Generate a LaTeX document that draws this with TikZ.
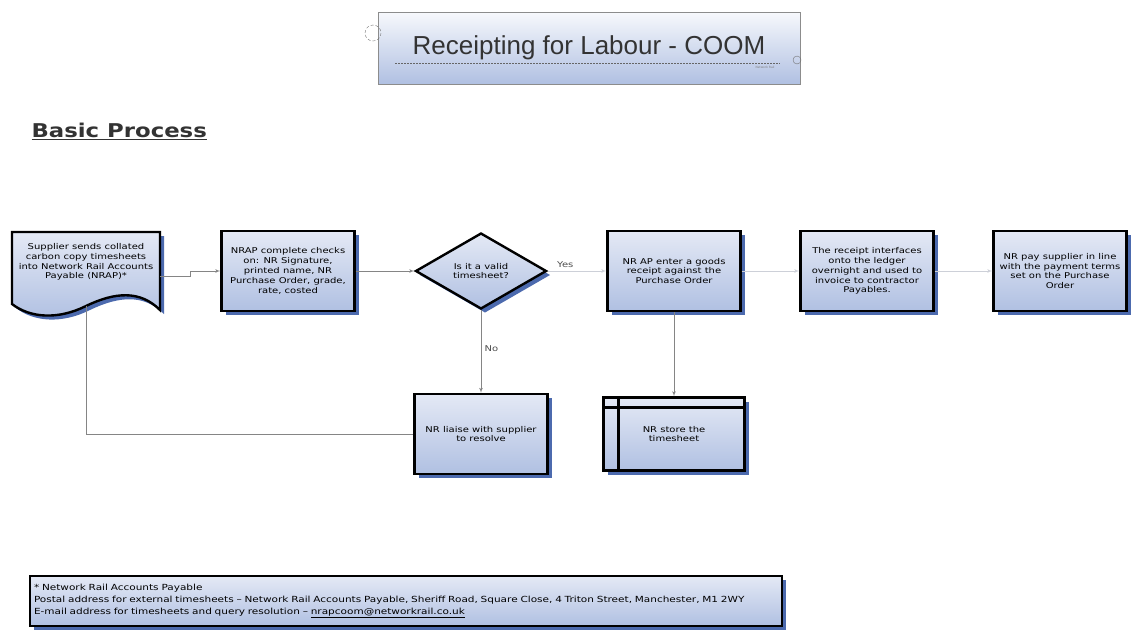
\documentclass[tikz,border=0pt]{standalone}
\usepackage{fontspec}
\setmainfont{DejaVu Sans}
\newfontfamily\titlefont{Liberation Sans}
\newfontfamily\boxfont[FakeStretch=1.25]{DejaVu Sans}
\newfontfamily\headfont[FakeStretch=1.2]{DejaVu Sans}
\usetikzlibrary{arrows,positioning,shapes.geometric,shadows}

\definecolor{boxtop}{HTML}{E4E9F5}
\definecolor{boxbottom}{HTML}{B0C0E2}
\definecolor{shadowblue}{HTML}{4C6AAE}
\definecolor{flowgray}{HTML}{858585}
\definecolor{palegray}{HTML}{CDD0D8}

\begin{document}
\begin{tikzpicture}[x=1pt,y=-1pt,>=latex',node distance=193pt,
  every node/.style={font=\boxfont\fontsize{8}{9.8}\selectfont},
  blueshadow/.style={drop shadow={shadow xshift=4pt,shadow yshift=-4pt,fill=shadowblue,opacity=1}},
  stepbox/.style={rectangle,draw=black,line width=2.4pt,top color=boxtop,bottom color=boxbottom,
    blueshadow,minimum width=133pt,minimum height=80pt,align=center,inner sep=2pt},
  decision/.style={diamond,draw=black,line width=2.4pt,top color=boxtop,bottom color=boxbottom,
    blueshadow,aspect=1.72,minimum width=131pt,minimum height=76pt,align=center,inner sep=0pt},
  flow/.style={->,draw=flowgray,line width=0.7pt},
  paleflow/.style={flow,draw=palegray}]
\useasboundingbox (0,0) rectangle (1139,641);

% title block
\node[rectangle,draw=black!45,line width=1pt,top color=white!70!boxtop,bottom color=boxbottom,
  minimum width=422pt,minimum height=72pt,font=\titlefont\fontsize{26}{30}\selectfont,text=black!80]
  (title) at (589,48) {Receipting for Labour - COOM};
\draw[black!60,dash pattern=on 2pt off 1pt] (395,63) -- (780,63);
\node[font=\fontsize{3}{3}\selectfont,text=black!50] (owner) at (765,67) {Network Rail};
\draw[black!55,densely dashed] (373,33) circle (8);
\draw[black!55] (797,60) circle (4);

\node[anchor=west,font=\headfont\bfseries\fontsize{19}{22}\selectfont,text=black!80] (basic) at (28,131)
  {\underline{Basic Process}};

% document shape
\path[draw=black,line width=2.4pt,top color=boxtop,bottom color=boxbottom,blueshadow]
  (12,232) -- (160,232) -- (160,310) .. controls (140,290) and (115,292) .. (86,306)
  .. controls (58,320) and (30,318) .. (12,304) -- cycle;
\node[minimum width=148pt,minimum height=60pt,align=center] (supp) at (86,262)
  {Supplier sends collated\\carbon copy timesheets\\into Network Rail Accounts\\Payable (NRAP)*};

\node[stepbox] (check) at (288,271)
  {NRAP complete checks\\on: NR Signature,\\printed name, NR\\Purchase Order, grade,\\rate, costed};
\node[decision] (valid) [right of=check] {Is it a valid\\timesheet?};
\node[stepbox] (receipt) [right of=valid] {NR AP enter a goods\\receipt against the\\Purchase Order};
\node[stepbox] (ledger) [right of=receipt]
  {The receipt interfaces\\onto the ledger\\overnight and used to\\invoice to contractor\\Payables.};
\node[stepbox] (pay) [right of=ledger]
  {NR pay supplier in line\\with the payment terms\\set on the Purchase\\Order};
\node[stepbox] (liaise) [below of=valid,node distance=163pt] {NR liaise with supplier\\to resolve};
\node[stepbox,minimum width=141pt,minimum height=73pt] (store) [below of=receipt,node distance=163pt]
  {NR store the\\timesheet};
\draw[black,line width=2.4pt] ([xshift=16pt]store.north west) -- ([xshift=16pt]store.south west)
  ([yshift=-11pt]store.north west) -- ([yshift=-11pt]store.north east);

% footnote
\node[rectangle,draw=black,line width=2.4pt,top color=boxtop,bottom color=boxbottom,blueshadow,
  minimum width=752pt,minimum height=50pt,text width=744pt,align=left,inner sep=3pt,
  font=\boxfont\fontsize{8.4}{12}\selectfont] (note) at (406,601)
  {* Network Rail Accounts Payable\\
   Postal address for external timesheets – Network Rail Accounts Payable, Sheriff Road, Square Close, 4 Triton Street, Manchester, M1 2WY\\
   E-mail address for timesheets and query resolution – \underline{nrapcoom@networkrail.co.uk}};

% connectors
\draw[flow] ([yshift=-14pt]supp.east) -- ++(30,0) |- (check.west);
\draw[flow] (check) -- (valid);
\draw[paleflow] (valid) -- node[pos=0.3,above,text=black!70] {Yes} (receipt);
\draw[flow] (valid) -- node[pos=0.47,right,text=black!70] {No} (liaise);
\draw[paleflow] (receipt) -- (ledger);
\draw[paleflow] (ledger) -- (pay);
\draw[flow] (receipt) -- (store);
\draw[flowgray,line width=0.7pt,shorten <=14pt] (supp.south) |- (liaise.west);
\end{tikzpicture}
\end{document}
